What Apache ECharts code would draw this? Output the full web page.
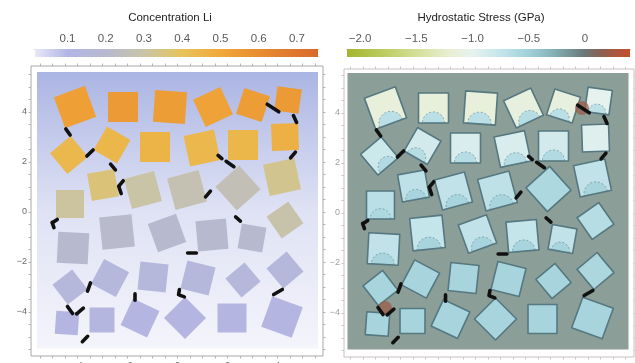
<!DOCTYPE html>
<html>
<head>
<meta charset="utf-8">
<script src="https://cdn.jsdelivr.net/npm/echarts@6/dist/echarts.min.js"></script>
<style>
  html, body { margin: 0; padding: 0; background: #ffffff; }
  #chart { width: 635px; height: 363px; }
</style>
</head>
<body>
<div id="chart"></div>
<script>
// ---- particle layout: centre (x, y), side length, rotation in degrees (counter-clockwise)
const particleX = [-4.1, -2.18, -0.3, 1.42, 3.02, 4.42,
                   -4.34, -2.62, -0.9, 0.98, 2.62, 4.3,
                   -2.98, -1.38, 0.38, 2.42, 4.18, -4.3,
                   -4.18, -2.42, -0.42, 1.38, 2.98, 4.3,
                   -4.3, -2.7, -0.98, 0.82, 2.62, 4.3,
                   -4.42, -3.02, -1.5, 0.3, 2.18, 4.18];
const particleY = [4.2, 4.2, 4.2, 4.2, 4.28, 4.48,
                   2.28, 2.68, 2.6, 2.56, 2.68, 3.0,
                   1.08, 0.88, 0.88, 0.96, 1.4, 0.32,
                   -1.44, -0.8, -0.84, -0.92, -1.04, -0.32,
                   -3.0, -2.64, -2.6, -2.64, -2.72, -2.32,
                   -4.44, -4.32, -4.24, -4.24, -4.24, -4.2];
const particleSide = [1.32, 1.2, 1.28, 1.2, 1.08, 0.98,
                      1.08, 1.08, 1.2, 1.24, 1.2, 1.08,
                      1.1, 1.24, 1.3, 1.28, 1.28, 1.12,
                      1.24, 1.3, 1.2, 1.22, 1.0, 1.06,
                      1.0, 1.13, 1.13, 1.16, 1.0, 1.05,
                      0.92, 1.0, 1.17, 1.19, 1.16, 1.3];
const particleAngle = [20, 0, -4, 25, -18, -8,
                       40, -30, 0, 12, 0, 2,
                       10, 15, 15, 42, 12, 0,
                       -3, 6, 20, 5, -10, 35,
                       38, -28, -6, -14, 40, 40,
                       -4, 0, -25, 45, 0, -20];

// ---- lithium concentration per particle
const liConcentration = [0.53, 0.55, 0.54, 0.52, 0.54, 0.55,
                         0.44, 0.45, 0.46, 0.44, 0.45, 0.47,
                         0.36, 0.30, 0.27, 0.26, 0.33, 0.31,
                         0.20, 0.21, 0.20, 0.20, 0.20, 0.29,
                         0.15, 0.15, 0.15, 0.15, 0.15, 0.15,
                         0.12, 0.13, 0.12, 0.12, 0.12, 0.12];

// ---- hydrostatic stress (GPa): particle rim and particle core
const stressRim = [-1.15, -1.15, -1.15, -1.12, -1.12, -1.0,
                   -0.80, -0.85, -0.90, -0.90, -0.85, -0.95,
                   -0.70, -0.72, -0.70, -0.60, -0.72, -0.68,
                   -0.72, -0.75, -0.72, -0.75, -0.72, -0.65,
                   -0.55, -0.55, -0.55, -0.55, -0.55, -0.58,
                   -0.55, -0.55, -0.55, -0.55, -0.55, -0.55];
const stressCore = [-0.68, -0.68, -0.68, -0.66, -0.68, -0.70,
                    -0.62, -0.65, -0.65, -0.65, -0.62, -0.95,
                    -0.55, -0.55, -0.55, -0.60, -0.55, -0.60,
                    -0.55, -0.55, -0.55, -0.55, -0.55, -0.65,
                    -0.55, -0.55, -0.55, -0.55, -0.55, -0.58,
                    -0.55, -0.55, -0.55, -0.55, -0.55, -0.55];

// ---- tensile spots at particle contacts
const hotX = [3.76, -4.12];
const hotY = [4.2, -3.8];
const hotStress = [0.2, 0.2];

// ---- binder links between particles: centre, direction (deg), length
const linkX = [-4.38, -3.5, -2.58, -2.26, -2.3, 1.22, 1.7, 2.1, 3.82, 4.7, 4.62,
               -4.9, -4.98, 2.42, 0.58, -3.54, 0.06, 0.18, -1.7, 4.02, -4.3, -3.9, -3.7];
const linkY = [3.2, 2.36, 1.8, 1.14, 0.88, 0.72, 2.2, 1.92, 4.16, 3.72, 2.28,
               -0.36, -0.52, -0.28, -1.64, -3.0, -3.2, -3.36, -3.4, -3.2, -3.92, -3.96, -5.08];
const linkAngle = [-55, 45, -50, 51, -72, 50, -40, -35, -33, -65, 50,
                   35, -70, -40, 0, 70, 80, -20, 90, 30, -55, 40, 45];
const linkLength = [0.3, 0.35, 0.3, 0.28, 0.3, 0.3, 0.2, 0.38, 0.55, 0.3, 0.3,
                    0.22, 0.22, 0.25, 0.35, 0.35, 0.2, 0.2, 0.25, 0.4, 0.35, 0.35, 0.3];

// ---- axis ticks and colour-bar ticks
const frameTicks = [-4, -2, 0, 2, 4];
const frameMinorTicks = [-5.5, -5, -4.5, -4, -3.5, -3, -2.5, -2, -1.5, -1, -0.5, 0, 0.5, 1, 1.5, 2, 2.5, 3, 3.5, 4, 4.5, 5, 5.5];
const concTicks = [0.1, 0.2, 0.3, 0.4, 0.5, 0.6, 0.7];
const concRange = [0.015, 0.755];
const stressTicks = [-2.0, -1.5, -1.0, -0.5, 0];
const stressRange = [-2.116, 0.4];

// ---- colour maps
const concColors = [[0.015, '#e8e8f8'], [0.1, '#b3b5e6'], [0.2, '#b7b9cf'], [0.3, '#c9c4a6'],
                    [0.4, '#e6c35a'], [0.5, '#f0a83a'], [0.6, '#e88c30'], [0.755, '#d9692b']];
const stressColors = [[-2.116, '#a3b52e'], [-1.8, '#bccb5e'], [-1.5, '#d3df98'], [-1.2, '#e8efd4'],
                      [-1.0, '#e6f2ee'], [-0.75, '#c4e5ea'], [-0.5, '#a0d0da'], [-0.3, '#87b3bb'],
                      [-0.1, '#718d8f'], [0, '#6c7676'], [0.15, '#8c6050'], [0.4, '#c64f2d']];

const plotX = [-5.62, 5.62];
const plotY = [-5.46, 5.6];
const FONT = '"Liberation Sans", Arial, sans-serif';

function hexToRgb(h) {
  const n = parseInt(h.slice(1), 16);
  return [(n >> 16) & 255, (n >> 8) & 255, n & 255];
}
function colorAt(stops, v) {
  if (v <= stops[0][0]) return stops[0][1];
  for (let i = 1; i < stops.length; i++) {
    if (v <= stops[i][0]) {
      const t = (v - stops[i - 1][0]) / (stops[i][0] - stops[i - 1][0]);
      const a = hexToRgb(stops[i - 1][1]), b = hexToRgb(stops[i][1]);
      return 'rgb(' + a.map((x, k) => Math.round(x + (b[k] - x) * t)).join(',') + ')';
    }
  }
  return stops[stops.length - 1][1];
}

function toLocal(api, cx, cy, deg, u, v) {
  const a = deg * Math.PI / 180, c = Math.cos(a), s = Math.sin(a);
  return api.coord([cx + u * c - v * s, cy + u * s + v * c]);
}
function squarePoints(api, cx, cy, side, deg) {
  const h = side / 2;
  return [[-h, -h], [h, -h], [h, h], [-h, h]].map(([u, v]) => toLocal(api, cx, cy, deg, u, v));
}
function halfDiscPoints(api, cx, cy, side, deg) {
  const h = side / 2, r = 0.74 * h, pts = [];
  for (let k = 0; k <= 24; k++) {
    const t = Math.PI * k / 24;
    pts.push(toLocal(api, cx, cy, deg, r * Math.cos(t), -h + r * Math.sin(t)));
  }
  return pts;
}

const particles = particleX.map((x, i) => [x, particleY[i], particleSide[i], particleAngle[i],
                                            liConcentration[i], stressRim[i], stressCore[i]]);
const links = linkX.map((x, i) => [x, linkY[i], linkAngle[i], linkLength[i]]);
const hots = hotX.map((x, i) => [x, hotY[i], hotStress[i]]);

function backgroundSeries(xi, yi, fill) {
  return {
    type: 'custom', xAxisIndex: xi, yAxisIndex: yi, silent: true, z: 1,
    data: [[plotX[0], plotY[0]]],
    renderItem: (params, api) => {
      const p0 = api.coord([plotX[0], plotY[1]]), p1 = api.coord([plotX[1], plotY[0]]);
      return { type: 'rect', shape: { x: p0[0], y: p0[1], width: p1[0] - p0[0], height: p1[1] - p0[1] }, style: { fill } };
    }
  };
}
function linkSeries(xi, yi) {
  return {
    type: 'custom', xAxisIndex: xi, yAxisIndex: yi, silent: true, z: 5,
    data: links,
    renderItem: (params, api) => {
      const x = api.value(0), y = api.value(1), a = api.value(2) * Math.PI / 180, l = api.value(3) / 2;
      const p0 = api.coord([x - l * Math.cos(a), y - l * Math.sin(a)]);
      const p1 = api.coord([x + l * Math.cos(a), y + l * Math.sin(a)]);
      return { type: 'line', shape: { x1: p0[0], y1: p0[1], x2: p1[0], y2: p1[1] },
               style: { stroke: '#111111', lineWidth: 3.6, lineCap: 'round' } };
    }
  };
}
function colorBarSeries(xi, yi, stops, range) {
  const [lo, hi] = range;
  return {
    type: 'custom', xAxisIndex: xi, yAxisIndex: yi, silent: true,
    data: [[lo, 0]],
    renderItem: (params, api) => {
      const p0 = api.coord([lo, 1]), p1 = api.coord([hi, 0]);
      return {
        type: 'rect', shape: { x: p0[0], y: p0[1], width: p1[0] - p0[0], height: p1[1] - p0[1] },
        style: { fill: { type: 'linear', x: 0, y: 0, x2: 1, y2: 0,
          colorStops: stops.map(([v, c]) => ({ offset: (v - lo) / (hi - lo), color: c })) } }
      };
    }
  };
}

const minus = v => (v < 0 ? '\u2212' : '') + Math.abs(v);
const minusFixed = v => v === 0 ? '0' : (v < 0 ? '\u2212' : '') + Math.abs(v).toFixed(1);

function frameAxes(gridIndex, xr, yr, labelColor, tickColor) {
  const tick = { show: true, customValues: frameMinorTicks, length: 2.5, lineStyle: { color: tickColor } };
  const line = { show: false, onZero: false };
  return {
    x: [
      { gridIndex, type: 'value', min: xr[0], max: xr[1], position: 'bottom',
        axisLine: line, splitLine: { show: false }, axisTick: tick,
        axisLabel: { customValues: frameTicks, formatter: minus, margin: 5, fontSize: 9, color: labelColor, fontFamily: FONT } },
      { gridIndex, type: 'value', min: xr[0], max: xr[1], position: 'top',
        axisLine: line, splitLine: { show: false }, axisTick: tick, axisLabel: { show: false } }
    ],
    y: [
      { gridIndex, type: 'value', min: yr[0], max: yr[1], position: 'left',
        axisLine: line, splitLine: { show: false }, axisTick: tick,
        axisLabel: { customValues: frameTicks, formatter: minus, margin: 4, fontSize: 9, color: labelColor, fontFamily: FONT } },
      { gridIndex, type: 'value', min: yr[0], max: yr[1], position: 'right',
        axisLine: line, splitLine: { show: false }, axisTick: tick, axisLabel: { show: false } }
    ]
  };
}
function barAxes(gridIndex, range, ticks, fmt) {
  return {
    x: { gridIndex, type: 'value', min: range[0], max: range[1], position: 'top',
         axisLine: { show: true, onZero: false, lineStyle: { color: '#6a6a6a', width: 0.8 } }, axisTick: { show: false }, splitLine: { show: false },
         axisLabel: { customValues: ticks, formatter: fmt, margin: 4, fontSize: 11.5, color: '#5a5a5a', fontFamily: FONT } },
    y: { gridIndex, type: 'value', min: 0, max: 1, show: false }
  };
}

const leftAxes = frameAxes(0, [-5.86, 5.82], [-5.76, 5.84], '#6a6a6a', '#b4b4b4');
const rightAxes = frameAxes(1, [-5.76, 5.84], [-5.76, 5.76], '#a0a0a0', '#cfc4c4');
const concAxes = barAxes(2, concRange, concTicks, v => v.toFixed(1));
const stressAxes = barAxes(3, stressRange, stressTicks, minusFixed);

const chart = echarts.init(document.getElementById('chart'));
chart.setOption({
  animation: false,
  backgroundColor: '#ffffff',
  grid: [
    { left: 31, top: 66, width: 292, height: 290, outerBoundsMode: 'none', containLabel: false,
      show: true, borderColor: '#a8a8a8', borderWidth: 1, backgroundColor: 'transparent' },
    { left: 344, top: 69, width: 290, height: 288, outerBoundsMode: 'none', containLabel: false,
      show: true, borderColor: '#c8c0c0', borderWidth: 1, backgroundColor: 'transparent' },
    { left: 35, top: 49, width: 283, height: 8, outerBoundsMode: 'none', containLabel: false },
    { left: 347, top: 49, width: 283, height: 8, outerBoundsMode: 'none', containLabel: false }
  ],
  xAxis: [...leftAxes.x, ...rightAxes.x, concAxes.x, stressAxes.x],
  yAxis: [...leftAxes.y, ...rightAxes.y, concAxes.y, stressAxes.y],
  graphic: [
    { type: 'text', x: 170, y: 18, style: { text: 'Concentration Li', align: 'center', verticalAlign: 'middle',
      font: '11.5px ' + FONT, fill: '#222222' } },
    { type: 'text', x: 481, y: 18, style: { text: 'Hydrostatic Stress (GPa)', align: 'center', verticalAlign: 'middle',
      font: '11.5px ' + FONT, fill: '#222222' } }
  ],
  series: [
    backgroundSeries(0, 0, { type: 'linear', x: 0, y: 0, x2: 0, y2: 1,
      colorStops: [{ offset: 0, color: '#abb5e3' }, { offset: 0.5, color: '#dfe2f4' }, { offset: 1, color: '#f4f4fb' }] }),
    {
      type: 'custom', xAxisIndex: 0, yAxisIndex: 0, silent: true, z: 3,
      data: particles,
      renderItem: (params, api) => ({
        type: 'polygon',
        shape: { points: squarePoints(api, api.value(0), api.value(1), api.value(2), api.value(3)) },
        style: { fill: colorAt(concColors, api.value(4)) }
      })
    },
    linkSeries(0, 0),

    backgroundSeries(2, 2, '#8b9e98'),
    {
      type: 'custom', xAxisIndex: 2, yAxisIndex: 2, silent: true, z: 3,
      data: particles,
      renderItem: (params, api) => {
        const x = api.value(0), y = api.value(1), side = api.value(2), deg = api.value(3);
        const rim = api.value(5), core = api.value(6);
        const outline = squarePoints(api, x, y, side, deg);
        const children = [{ type: 'polygon', shape: { points: outline }, style: { fill: colorAt(stressColors, rim) } }];
        if (Math.abs(core - rim) > 0.01) {
          children.push({ type: 'polygon', shape: { points: halfDiscPoints(api, x, y, side, deg) },
            style: { fill: colorAt(stressColors, core), stroke: '#6a8c92', lineWidth: 0.7, lineDash: [2, 2] } });
        }
        children.push({ type: 'polygon', shape: { points: outline },
          style: { fill: null, stroke: '#567880', lineWidth: 1.6, lineJoin: 'round' } });
        return { type: 'group', children };
      }
    },
    {
      type: 'custom', xAxisIndex: 2, yAxisIndex: 2, silent: true, z: 4,
      data: hots,
      renderItem: (params, api) => {
        const c = api.coord([api.value(0), api.value(1)]);
        const r = api.size([0.28, 0])[0];
        return { type: 'circle', shape: { cx: c[0], cy: c[1], r }, style: { fill: colorAt(stressColors, api.value(2)), opacity: 0.75 } };
      }
    },
    linkSeries(2, 2),

    colorBarSeries(4, 4, concColors, concRange),
    colorBarSeries(5, 5, stressColors, stressRange)
  ]
});
</script>
</body>
</html>
